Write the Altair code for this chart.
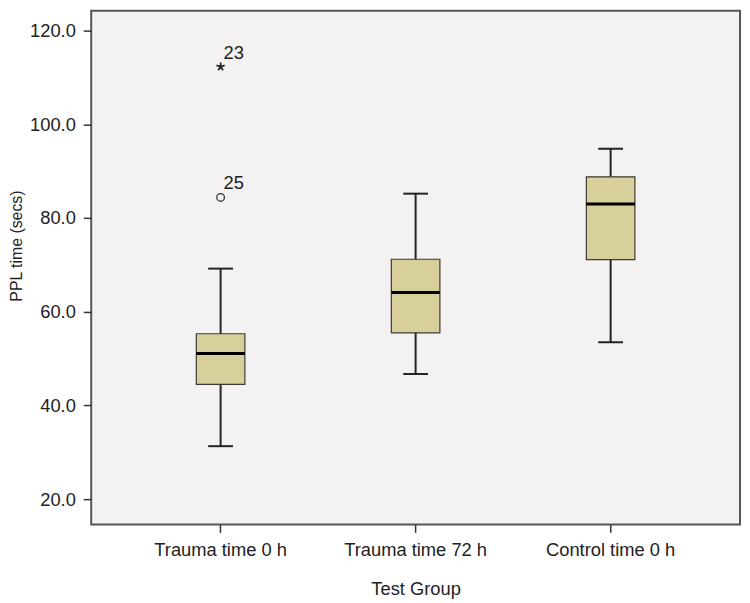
import altair as alt
import pandas as pd

# ---- data ----
groups = ["Trauma time 0 h", "Trauma time 72 h", "Control time 0 h"]
whisker_low = [31.3, 46.7, 53.5]
q1 = [44.5, 55.5, 71.1]
median = [51.1, 64.1, 83.0]
q3 = [55.3, 71.2, 88.8]
whisker_high = [69.2, 85.2, 94.8]

outlier_group = ["Trauma time 0 h", "Trauma time 0 h"]
outlier_value = [112.3, 84.4]
outlier_label = ["23", "25"]
outlier_kind = ["extreme", "outlier"]

y_ticks = [20, 40, 60, 80, 100, 120]

box_df = pd.DataFrame({
    "group": groups, "lo": whisker_low, "q1": q1, "med": median,
    "q3": q3, "hi": whisker_high,
})
out_df = pd.DataFrame({
    "group": outlier_group, "value": outlier_value,
    "label": outlier_label, "kind": outlier_kind,
})

FONT = "Liberation Sans"
FS = 18.5
STAR = "M0,0L0,-1M0,0L0.95,-0.31M0,0L0.59,0.81M0,0L-0.59,0.81M0,0L-0.95,-0.31"

xscale = alt.Scale(type="band", paddingInner=0.751, paddingOuter=0.539)
yscale = alt.Scale(domain=[14.6, 124.23], nice=False, zero=False)

x_enc = alt.X(
    "group:N", sort=groups, scale=xscale, title="Test Group",
    axis=alt.Axis(
        labelFont=FONT, labelFontSize=FS, labelColor="#222", labelAngle=0,
        labelPadding=8, tickSize=8, tickColor="#333", tickWidth=1.5,
        domain=False, grid=False,
        titleFont=FONT, titleFontSize=FS, titleFontWeight="normal",
        titleColor="#222", titleY=64.5, titleBaseline="middle",
    ),
)
y_axis = alt.Axis(
    values=y_ticks, format=".1f", labelFont=FONT, labelFontSize=FS,
    labelColor="#222", labelPadding=8, tickSize=8, tickColor="#333",
    tickWidth=1.5, domain=False, grid=False,
    titleFont=FONT, titleFontSize=16, titleFontWeight="normal",
    titleColor="#222", titleX=-75, titleY=237, titleBaseline="middle",
)

base = alt.Chart(box_df)

whiskers = base.mark_rule(color="#222", strokeWidth=2).encode(
    x=x_enc,
    y=alt.Y("lo:Q", scale=yscale, axis=y_axis, title="PPL time (secs)"),
    y2="hi:Q",
)
caps_lo = base.mark_tick(color="#222", thickness=2, size=25, opacity=1).encode(
    x=x_enc, y=alt.Y("lo:Q", scale=yscale)
)
caps_hi = base.mark_tick(color="#222", thickness=2, size=25, opacity=1).encode(
    x=x_enc, y=alt.Y("hi:Q", scale=yscale)
)
boxes = base.mark_rect(fill="#d8d09b", stroke="#3a3a32", strokeWidth=1.2).encode(
    x=x_enc, y=alt.Y("q1:Q", scale=yscale), y2="q3:Q"
)
medians = base.mark_tick(color="#000", thickness=3, size=49, opacity=1).encode(
    x=x_enc, y=alt.Y("med:Q", scale=yscale)
)

obase = alt.Chart(out_df)
circles = obase.transform_filter(alt.datum.kind == "outlier").mark_point(
    shape="circle", filled=False, size=60, color="#333", strokeWidth=1.3,
    opacity=1
).encode(x=x_enc, y=alt.Y("value:Q", scale=yscale))
stars = obase.transform_filter(alt.datum.kind == "extreme").mark_point(
    shape=STAR, filled=False, size=75, color="#222", strokeWidth=1.7,
    opacity=1
).encode(x=x_enc, y=alt.Y("value:Q", scale=yscale))
labels = obase.mark_text(
    align="left", baseline="middle", dx=3, dy=-14, font=FONT,
    fontSize=FS, color="#222"
).encode(x=x_enc, y=alt.Y("value:Q", scale=yscale), text="label:N")

chart = alt.layer(
    whiskers, caps_lo, caps_hi, boxes, medians, circles, stars, labels
).properties(
    width=655, height=518.5,
    autosize="none",
    background="white",
    padding={"left": 84, "top": 0, "right": 2, "bottom": 76},
).configure_view(
    fill="#f4f1f2", stroke="#555", strokeWidth=2
)

chart.save("out.html", embed_options={"renderer": "svg", "actions": False})
